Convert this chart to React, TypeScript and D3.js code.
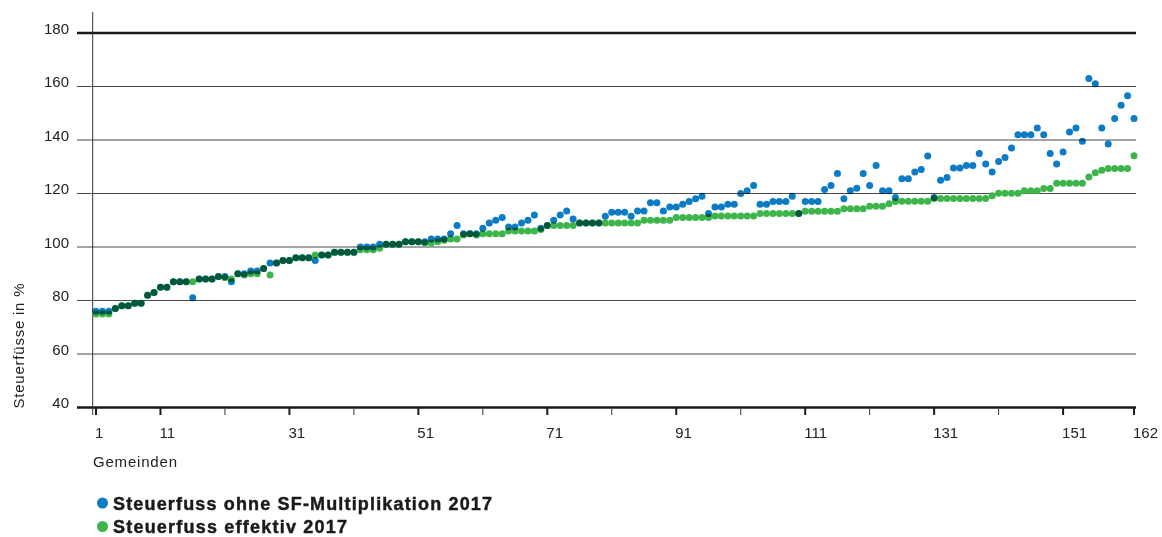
import React from "react";
import * as d3 from "d3";

const ohne: number[] = [
  76, 76, 76, 77, 78, 78, 79, 79, 82, 83,
  85, 85, 87, 87, 87, 81, 88, 88, 88, 89,
  89, 87, 90, 90, 91, 91, 92, 94, 94, 95,
  95, 96, 96, 96, 95, 97, 97, 98, 98, 98,
  98, 100, 100, 100, 101, 101, 101, 101, 102, 102,
  102, 102, 103, 103, 103, 105, 108, 105, 105, 105,
  107, 109, 110, 111, 107.5, 107.5, 109, 110, 112, 107,
  108, 110, 112, 113.5, 110.5, 109, 109, 109, 109, 111.5,
  113, 113, 113, 111.5, 113.5, 113.5, 116.5, 116.5, 113.5, 115,
  115, 116, 117, 118, 119, 112.5, 115, 115, 116, 116,
  120, 121, 123, 116, 116, 117, 117, 117, 119, 112.5,
  117, 117, 117, 121.5, 123, 127.5, 118, 121, 122, 127.5,
  123, 130.5, 121, 121, 118.5, 125.5, 125.5, 128, 129, 134,
  118.5, 125, 126, 129.5, 129.5, 130.5, 130.5, 135, 131, 128,
  132, 133.5, 137, 142, 142, 142, 144.5, 142, 135, 131,
  135.5, 143, 144.5, 139.5, 163, 161, 144.5, 138.5, 148, 153,
  156.5, 148,
];

const effektiv: number[] = [
  75, 75, 75, 77, 78, 78, 79, 79, 82, 83,
  85, 85, 87, 87, 87, 87, 88, 88, 88, 89,
  88.5, 88, 90, 89.5, 90, 90, 92, 89.5, 94, 95,
  95, 96, 96, 96, 97, 97, 97, 98, 98, 98,
  98, 99, 99, 99, 99.5, 101, 101, 101, 102, 102,
  102, 101.5, 101.5, 102, 102.5, 103, 103, 104.5, 105, 104.5,
  105, 105, 105, 105, 106, 106, 106, 106, 106, 106.5,
  108, 108, 108, 108, 108, 109, 109, 109, 109, 109,
  109, 109, 109, 109, 109, 110, 110, 110, 110, 110,
  111, 111, 111, 111, 111, 111, 111.6, 111.6, 111.6, 111.6,
  111.6, 111.6, 111.6, 112.5, 112.5, 112.5, 112.5, 112.5, 112.5, 112.5,
  113.4, 113.4, 113.4, 113.4, 113.4, 113.4, 114.3, 114.3, 114.3, 114.3,
  115.2, 115.2, 115.2, 116.2, 117, 117.1, 117.1, 117.1, 117.1, 117.1,
  118.1, 118.1, 118.1, 118.1, 118.1, 118.1, 118.1, 118.1, 118.1, 119.2,
  120.1, 120.1, 120.1, 120.1, 121, 121, 121, 121.9, 121.9, 123.8,
  123.8, 123.8, 123.8, 123.8, 126.2, 127.8, 128.7, 129.3, 129.3, 129.3,
  129.3, 134.1,
];

const yTicks: number[] = [40, 60, 80, 100, 120, 140, 160, 180];
const xLabelTicks: number[] = [1, 11, 31, 51, 71, 91, 111, 131, 151, 162];
const xMinorTicks: number[] = [21, 41, 61, 81, 101, 121, 141];

const seriesNames = ["Steuerfuss ohne SF-Multiplikation 2017", "Steuerfuss effektiv 2017"];
const BLUE = "#0c7cc6";
const GREEN = "#3db54a";
const FONT = "'Liberation Sans', Arial, Helvetica, sans-serif";

export default function App() {
  const W = 1162;
  const H = 537;
  const x = d3.scaleLinear().domain([1, 162]).range([96, 1134]);
  const y = d3.scaleLinear().domain([40, 180]).range([407.5, 33]);
  const gridX0 = 77;
  const gridX1 = 1136;
  const axisX = 92.7;
  const r = 3.5;

  return (
    <svg
      width={W}
      height={H}
      style={{ position: "absolute", left: 0, top: 0, background: "#fff" }}
      fontFamily={FONT}
    >
      <rect x={0} y={0} width={W} height={H} fill="#fff" />
      {yTicks.map((t) => {
        const heavy = t === 40 || t === 180;
        return (
          <line
            key={"g" + t}
            x1={gridX0}
            x2={gridX1}
            y1={y(t)}
            y2={y(t)}
            stroke={heavy ? "#1a1a1a" : "#4a4a4a"}
            strokeWidth={heavy ? 2.4 : 1}
          />
        );
      })}
      <line x1={axisX} x2={axisX} y1={12} y2={415} stroke="#333" strokeWidth={1} />
      {yTicks.map((t) => (
        <text key={"yl" + t} x={69} y={y(t) + 0.5} textAnchor="end" fontSize={15} fill="#222">
          {t}
        </text>
      ))}
      <text
        transform={`translate(24,346) rotate(-90)`}
        textAnchor="middle"
        fontSize={15}
        fill="#222"
        textLength={125}
        lengthAdjust="spacing"
      >
        Steuerfüsse in %
      </text>
      {xLabelTicks.map((t) => (
        <line key={"xt" + t} x1={x(t)} x2={x(t)} y1={408} y2={415} stroke="#1a1a1a" strokeWidth={2} />
      ))}
      {xMinorTicks.map((t) => (
        <line key={"xm" + t} x1={x(t)} x2={x(t)} y1={409} y2={415} stroke="#333" strokeWidth={1} />
      ))}
      {xLabelTicks.map((t) => (
        <text key={"xl" + t} x={x(t) - 1} y={437.5} fontSize={15} fill="#222">
          {t}
        </text>
      ))}
      <text x={93} y={466.5} fontSize={15} fill="#222" textLength={84} lengthAdjust="spacing">
        Gemeinden
      </text>
      <g>
        {effektiv.map((v, i) => (
          <circle key={"e" + i} cx={x(i + 1)} cy={y(v)} r={r} fill={GREEN} />
        ))}
      </g>
      <g>
        {ohne.map((v, i) => (
          <circle
            key={"o" + i}
            cx={x(i + 1)}
            cy={y(v)}
            r={r}
            fill={BLUE}
            style={{ mixBlendMode: "multiply" }}
          />
        ))}
      </g>
      <circle cx={102.5} cy={503} r={5.5} fill={BLUE} />
      <text
        x={113}
        y={510}
        fontSize={18}
        fontWeight="bold"
        fill="#1a1a1a"
        stroke="#1a1a1a"
        strokeWidth={0.45}
        textLength={379}
        lengthAdjust="spacing"
      >
        {seriesNames[0]}
      </text>
      <circle cx={102.5} cy={526.5} r={5.5} fill={GREEN} />
      <text
        x={113}
        y={532.5}
        fontSize={18}
        fontWeight="bold"
        fill="#1a1a1a"
        stroke="#1a1a1a"
        strokeWidth={0.45}
        textLength={234}
        lengthAdjust="spacing"
      >
        {seriesNames[1]}
      </text>
    </svg>
  );
}
